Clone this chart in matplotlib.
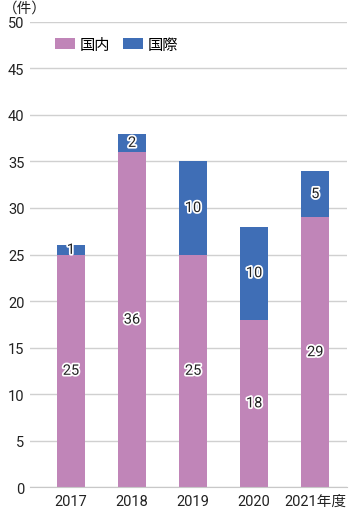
import matplotlib
matplotlib.use("Agg")
import matplotlib.pyplot as plt
import matplotlib.patheffects as pe

plt.rcParams['font.family'] = ['Roboto', 'Noto Sans CJK JP', 'DejaVu Sans']

years = ["2017", "2018", "2019", "2020", "2021年度"]
domestic = [25, 36, 25, 18, 29]
international = [1, 2, 10, 10, 5]
series_names = ["国内", "国際"]
yticks = [0, 5, 10, 15, 20, 25, 30, 35, 40, 45, 50]

c_dom = "#C085B8"
c_int = "#3F6EB6"

fig = plt.figure(figsize=(3.57, 5.10), dpi=100)
ax = fig.add_axes([0.084, 0.043, 0.888, 0.912])

x = list(range(len(years)))
w = 0.46
b1 = ax.bar(x, domestic, width=w, color=c_dom, label=series_names[0], zorder=3)
b2 = ax.bar(x, international, width=w, bottom=domestic, color=c_int, label=series_names[1], zorder=3)

stroke = [pe.withStroke(linewidth=2.5, foreground="white")]
for i in x:
    ax.text(i, domestic[i] / 2, str(domestic[i]), ha="center", va="center",
            fontsize=10.5, color="#222222", path_effects=stroke, zorder=5)
    ax.text(i, domestic[i] + international[i] / 2, str(international[i]), ha="center", va="center",
            fontsize=10.5, color="#222222", path_effects=stroke, zorder=5)

ax.set_ylim(0, 50)
ax.set_xlim(-0.67, 4.52)
ax.set_yticks(yticks)
ax.set_xticks(x)
ax.set_xticklabels(years)
ax.yaxis.grid(True, color="#D0D0D0", linewidth=1, zorder=0)
for s in ["top", "right", "left"]:
    ax.spines[s].set_visible(False)
ax.spines["bottom"].set_color("#C8C8C8")
ax.spines["bottom"].set_zorder(4)
ax.tick_params(axis="both", length=0, labelsize=10.5, colors="#222222")
ax.tick_params(axis="y", pad=4)
ax.tick_params(axis="x", pad=5)

ax.legend(loc="upper left", bbox_to_anchor=(0.035, 0.995), ncol=2, frameon=False,
          fontsize=11, handlelength=1.35, handleheight=0.75, columnspacing=0.8,
          handletextpad=0.3)

fig.text(0.008, 0.997, "（件）", ha="left", va="top", fontsize=10.5, color="#222222",
         family=['Noto Sans CJK JP', 'DejaVu Sans'])

fig.savefig("out.png", dpi=100)
